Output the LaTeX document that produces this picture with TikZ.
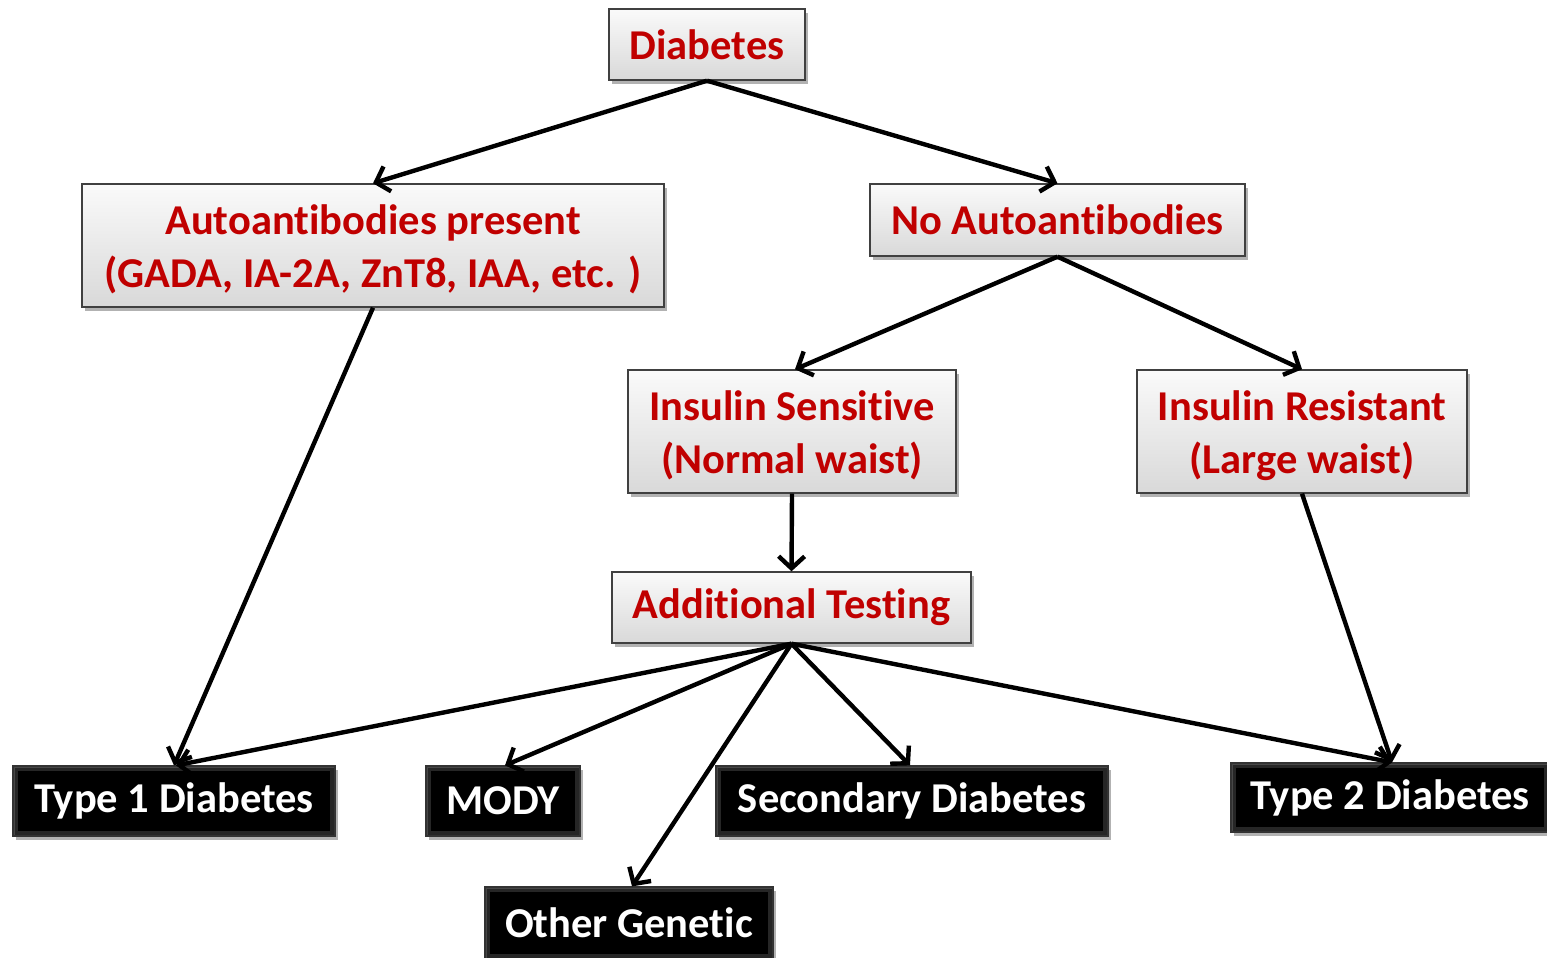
\documentclass[tikz,border=0pt]{standalone}
\usepackage{fontspec}
\setmainfont{Carlito}[Ligatures=NoCommon]
\usetikzlibrary{arrows.meta,shadows}
\definecolor{boxred}{HTML}{C00000}
\newcommand{\topstrut}{\rule{0pt}{38pt}}
\tikzset{
  boxfont/.style={font=\fontsize{42.5}{53}\selectfont\bfseries},
  graybox/.style={draw=black!75, line width=1.4pt, top color=gray!4, bottom color=gray!30,
    text=boxred, boxfont, align=center,
    inner sep=0pt, drop shadow={shadow xshift=3pt, shadow yshift=-4pt, opacity=0.3, fill=black}},
  blackbox/.style={draw=black!80, line width=1.2pt, fill=black, text=white,
    boxfont, align=center, inner sep=0pt,
    path picture={\draw[black!85, line width=10pt]
      (path picture bounding box.south west) rectangle (path picture bounding box.north east);
      \draw[black!72, line width=3pt]
      (path picture bounding box.south west) rectangle (path picture bounding box.north east);},
    drop shadow={shadow xshift=3pt, shadow yshift=-4pt, opacity=0.3, fill=black}},
  link/.style={line width=4.4pt, -{Straight Barb[length=12pt,width=26pt]}}
}
\begin{document}
\begin{tikzpicture}[x=1pt, y=-1pt]
\useasboundingbox (0,0) rectangle (1547,958);

% decision boxes
\node[graybox, minimum width=196pt, minimum height=71pt] (diab) at (707,44.5) {Diabetes};
\node[graybox, minimum width=582pt, minimum height=123pt] (auto) at (373,245.5)
  {\topstrut Autoantibodies present\\(GADA, IA-2A, ZnT8, IAA, etc. )};
\node[graybox, minimum width=375pt, minimum height=72pt] (noauto) at (1057.5,220) {No Autoantibodies};
\node[graybox, minimum width=328pt, minimum height=123pt] (sens) at (792,431.5)
  {\topstrut Insulin Sensitive\\(Normal waist)};
\node[graybox, minimum width=330pt, minimum height=123pt] (resist) at (1302,431.5)
  {\topstrut Insulin Resistant\\(Large waist)};
\node[graybox, minimum width=359pt, minimum height=71pt] (addl) at (791.5,607.5) {Additional Testing};

% outcome boxes
\node[blackbox, minimum width=322pt, minimum height=70pt] (t1) at (174,801) {Type 1 Diabetes};
\node[blackbox, minimum width=154pt, minimum height=70pt] (mody) at (503,801) {MODY};
\node[blackbox, minimum width=392pt, minimum height=70pt] (sec) at (912,801) {Secondary Diabetes};
\node[blackbox, minimum width=318pt, minimum height=69pt] (t2) at (1390,797.5) {Type 2 Diabetes};
\node[blackbox, minimum width=288pt, minimum height=72pt] (gen) at (629,923) {Other Genetic};

% connectors
\draw[link] (diab.south) -- (auto.north);
\draw[link] (diab.south) -- (noauto.north);
\draw[link] (auto.south) -- (t1.north);
\draw[link] (noauto.south) -- ([xshift=3pt]sens.north);
\draw[link] (noauto.south) -- (resist.north);
\draw[link] (sens.south) -- (addl.north);
\draw[link] (resist.south) -- ([xshift=2pt]t2.north);
\draw[link] (addl.south) -- ([xshift=2pt]t1.north);
\draw[link] (addl.south) -- ([xshift=2pt]mody.north);
\draw[link] (addl.south) -- ([xshift=3pt]gen.north);
\draw[link] (addl.south) -- ([xshift=-2pt]sec.north);
\draw[link] (addl.south) -- ([xshift=2pt]t2.north);
\end{tikzpicture}
\end{document}
